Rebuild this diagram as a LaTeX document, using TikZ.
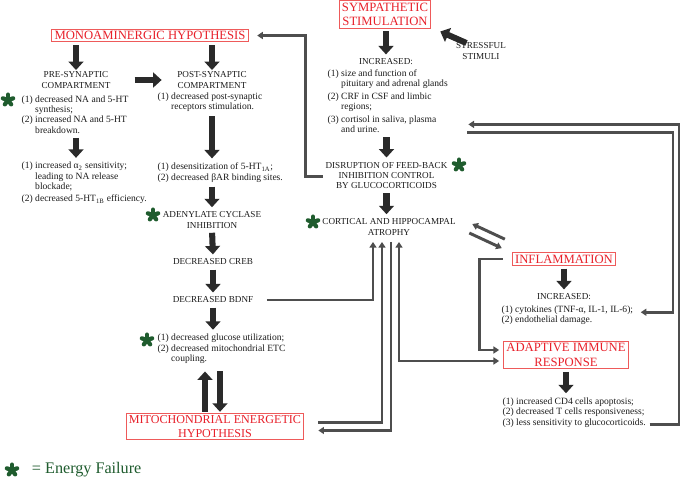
\documentclass[tikz,border=0pt]{standalone}
\usepackage{fontspec}
\setmainfont{Liberation Serif}
\usetikzlibrary{arrows.meta, positioning, calc}
\definecolor{titlered}{HTML}{E8202A}
\definecolor{boxred}{HTML}{EE5A5A}
\definecolor{inkblack}{HTML}{1C1C1C}
\definecolor{arrowblack}{HTML}{2A2A2A}
\definecolor{linkgray}{HTML}{4E4E4E}
\definecolor{efgreen}{HTML}{1F5C2E}

\tikzset{
  hypbox/.style={draw=boxred, line width=0.7pt, text=titlered, font=\fontsize{9}{10.2}\selectfont, align=center, inner xsep=2pt, inner ysep=1.5pt},
  capstext/.style={text=inkblack, font=\fontsize{6.5}{7.4}\selectfont, align=center, inner sep=1pt},
  listtext/.style={text=inkblack, font=\fontsize{6.8}{7.4}\selectfont, align=left, inner sep=1pt, anchor=west},
  bigarrow/.style={draw=arrowblack, line width=4.3pt, -{Triangle[length=6pt, width=10.5pt]}},
  link/.style={draw=linkgray, line width=2.1pt, -{Triangle[length=4pt, width=5pt]}},
  linkboth/.style={draw=linkgray, line width=2.1pt, {Triangle[length=4pt, width=5pt]}-{Triangle[length=4pt, width=5pt]}},
  plainlink/.style={draw=linkgray, line width=2.1pt},
  efail/.pic={
    \foreach \a in {-90,-18,54,126,198}
      \draw[efgreen, line width=3pt, line cap=round] (0,0) -- (\a:5.4);
  }
}

\begin{document}
\begin{tikzpicture}[x=0.025cm, y=-0.025cm]
  % Page
  \useasboundingbox (0,0) rectangle (685,481);
  \fill[white] (0,0) rectangle (685,481);

  % Monoaminergic branch
  \node[hypbox] (mono) at (150,35.5) {MONOAMINERGIC HYPOTHESIS};
  \node[capstext] (pre) at (76,80) {PRE-SYNAPTIC\\COMPARTMENT};
  \node[capstext] (post) at (212,80) {POST-SYNAPTIC\\COMPARTMENT};
  \node[listtext] (prelist) at (20,114.5) {(1) decreased NA and 5-HT\\\hphantom{(1) }synthesis;\\(2) increased NA and 5-HT\\\hphantom{(2) }breakdown.};
  \node[listtext] (postlist) at (156,102) {(1) decreased post-synaptic\\\hphantom{(1) }receptors stimulation.};
  \node[listtext] (prelist2) at (20,183) {(1) increased α\textsubscript{2} sensitivity;\\\hphantom{(1) }leading to NA release\\\hphantom{(1) }blockade;\\[1pt](2) decreased 5-HT\textsubscript{1B} efficiency.};
  \node[listtext] (postlist2) at (156,172.5) {(1) desensitization of 5-HT\textsubscript{1A};\\(2) decreased βAR binding sites.};
  \node[capstext] (adenyl) at (212,220) {ADENYLATE CYCLASE\\INHIBITION};
  \node[capstext] (creb) at (213,262) {DECREASED CREB};
  \node[capstext] (bdnf) at (213,300) {DECREASED BDNF};
  \node[listtext] (gluc) at (156,349) {(1) decreased glucose utilization;\\(2) decreased mitochondrial ETC\\\hphantom{(2) }coupling.};
  \node[hypbox, font=\fontsize{8.6}{10}\selectfont] (mito) at (215,426.5) {MITOCHONDRIAL ENERGETIC\\HYPOTHESIS};

  \draw[bigarrow, shorten <=2pt] (mono.south -| pre.north) -- (pre.north);
  \draw[bigarrow, shorten <=2pt] (mono.south -| post.north) -- (post.north);
  \draw[bigarrow, shorten <=16pt, shorten >=10pt] (pre.east) -- (post.west);
  \draw[bigarrow, shorten <=2pt, shorten >=2pt] (prelist.south -| pre.south) -- (prelist2.north -| pre.south);
  \draw[bigarrow, shorten <=2pt, shorten >=2pt] (postlist.south -| post.south) -- (postlist2.north -| post.south);
  \draw[bigarrow, shorten <=2pt, shorten >=2pt] (postlist2.south -| adenyl.north) -- (adenyl.north);
  \draw[bigarrow, shorten <=2pt, shorten >=2pt] (adenyl.south) -- (creb.north);
  \draw[bigarrow, shorten <=2pt, shorten >=2pt] (creb.south) -- (bdnf.north);
  \draw[bigarrow, shorten <=2pt, shorten >=2pt] (bdnf.south) -- (gluc.north -| bdnf.south);
  \draw[bigarrow] ($(mito.north)+(-10,-1)$) -- ($(gluc.south -| mito.north)+(-10,6)$);
  \draw[bigarrow] ($(gluc.south -| mito.north)+(5,6)$) -- ($(mito.north)+(5,-1)$);

  % Sympathetic branch
  \node[hypbox] (symp) at (385,14.5) {SYMPATHETIC\\STIMULATION};
  \node[capstext] (stress) at (481,51) {STRESSFUL\\STIMULI};
  \node[capstext] (incr) at (386,62) {INCREASED:};
  \node[listtext] (symplist) at (326,101) {(1) size and function of\\\hphantom{(1) }pituitary and adrenal glands\\[1.6pt](2) CRF in CSF and limbic\\\hphantom{(2) }regions;\\[1.6pt](3) cortisol in saliva, plasma\\\hphantom{(3) }and urine.};
  \node[capstext] (disrupt) at (386.5,175.5) {DISRUPTION OF FEED-BACK\\INHIBITION CONTROL\\BY GLUCOCORTICOIDS};
  \node[capstext] (atrophy) at (389,227) {CORTICAL AND HIPPOCAMPAL\\ATROPHY};

  \draw[bigarrow, shorten <=2pt, shorten >=2pt] (symp.south -| incr.north) -- (incr.north);
  \draw[bigarrow, shorten <=2pt, shorten >=2pt] (symplist.south -| disrupt.north) -- (disrupt.north);
  \draw[bigarrow, shorten <=2pt, shorten >=2pt] (disrupt.south) -- (disrupt.south |- atrophy.north);
  \draw[bigarrow] ($(stress.north west)+(12,2)$) -- ($(symp.south east)+(9,3)$);

  % Immune branch
  \node[hypbox] (infl) at (564,259) {INFLAMMATION};
  \node[capstext] (inflinc) at (564,297) {INCREASED:};
  \node[listtext] (infllist) at (500,315.5) {(1) cytokines (TNF-α, IL-1, IL-6);\\(2) endothelial damage.};
  \node[hypbox] (adapt) at (566,355) {ADAPTIVE IMMUNE\\RESPONSE};
  \node[listtext] (adaptlist) at (501,412.5) {(1) increased CD4 cells apoptosis;\\(2) decreased T cells responsiveness;\\(3) less sensitivity to glucocorticoids.};

  \draw[bigarrow, shorten <=2pt, shorten >=2pt] (infl.south) -- (inflinc.north);
  \draw[bigarrow, shorten <=2pt, shorten >=2pt] (adapt.south) -- (adaptlist.north -| adapt.south);

  % Feedback connectors
  \coordinate (rimout) at (679,0);
  \coordinate (rimin) at (673,0);
  \coordinate (atbase) at ($(atrophy.south)+(0,5)$);
  \coordinate (cortend) at ($(symplist.south east)+(19,-10)$);
  \coordinate (cortout) at ($(symplist.south east)+(18,-2)$);
  \coordinate (cytend) at ($(infllist.north east)+(6,8)$);
  \coordinate (listend) at ($(adaptlist.south east)+(2,-4)$);
  \draw[link, shorten >=6pt] ($(disrupt.west)+(-1,1)$) -- ++(-17,0) |- (mono.east);
  \draw[link] (listend) -- (listend -| rimout) -- (rimout |- cortend) -- (cortend);
  \draw[link] (cortout) -- (cortout -| rimin) -- (rimin |- cytend) -- (cytend);
  \draw[link] ($(infl.north west)+(-7,-13)$) -- ($(atrophy.east)+(15,-3)$);
  \draw[link] ($(atrophy.east)+(12,6)$) -- ($(infl.north west)+(-10,-4)$);
  \draw[link] ($(infl.west)+(-9,0)$) -- ++(-23,0) |- ($(adapt.west)+(-4,-5)$);
  \draw[linkboth] ($(atbase)+(10,0)$) |- ($(adapt.west)+(-4,6)$);
  \draw[link] ($(bdnf.east)+(12,0)$) -| ($(atbase)+(-16,0)$);
  \draw[link] ($(mito.east)+(14,-4)$) -| ($(atbase)+(-7,0)$);
  \draw[link] ($(atbase)+(2,0)$) |- ($(mito.east)+(14,4)$);

  % Energy failure marks
  \foreach \p in {(8,100), (153,215), (459,165), (313,222), (147,340)}
    \pic at \p {efail};

  % Legend
  \pic at (12,470) {efail};
  \node[text=efgreen, font=\fontsize{11.5}{12}\selectfont, anchor=west] (legend) at (27,470) {= Energy Failure};
\end{tikzpicture}
\end{document}
